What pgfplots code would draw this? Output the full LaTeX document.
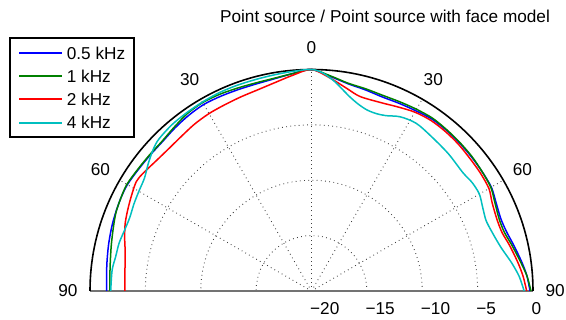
\documentclass[border=0pt]{standalone}
\usepackage{pgfplots}
\usepackage{pgfplotstable}
\pgfplotsset{compat=1.18}
\usepackage{fontspec}
\setmainfont{Liberation Sans}
\definecolor{mblue}{rgb}{0,0,1}
\definecolor{mgreen}{rgb}{0,0.5,0}
\definecolor{mred}{rgb}{1,0,0}
\definecolor{mcyan}{rgb}{0,0.75,0.75}
\newcommand{\F}{\fontsize{17.2}{20}\selectfont}
\def\U{11.075}
\tikzset{gridl/.style={black!75, line width=0.9pt, dash pattern=on 0.8pt off 3.4pt}}

% angle a (deg, 0 = front, positive = right), level db (dB)
\pgfplotstableread{
a db
-90 -1.5
-86 -1.45
-82 -1.35
-77 -1.2
-72 -1.05
-68 -0.95
-64 -0.85
-60 -0.8
-55 -0.9
-50 -0.95
-45 -0.95
-40 -0.8
-35 -0.65
-30 -0.55
-25 -0.6
-20 -0.65
-15 -0.65
-10 -0.55
-5 -0.3
0 0
5 -0.55
10 -1.0
15 -1.2
20 -1.35
25 -1.3
30 -1.2
35 -1.05
40 -1.05
45 -1.1
50 -1.15
55 -1.2
60 -1.25
64 -1.5
69 -1.7
73 -1.6
77 -1.3
82 -0.85
86 -0.5
90 -0.27
}\dblue

\pgfplotstableread{
a db
-90 -1.8
-86 -1.75
-82 -1.65
-77 -1.45
-72 -1.2
-68 -0.97
-64 -0.85
-60 -0.75
-55 -0.85
-50 -0.9
-45 -0.9
-40 -0.7
-35 -0.45
-30 -0.35
-25 -0.4
-20 -0.5
-15 -0.55
-10 -0.5
-5 -0.3
0 0
5 -0.5
10 -0.95
15 -1.1
20 -1.2
25 -1.15
30 -1.05
35 -0.95
40 -1.0
45 -1.05
50 -1.1
55 -1.2
60 -1.3
64 -1.6
69 -1.85
73 -1.8
77 -1.45
82 -0.95
86 -0.5
90 -0.18
}\dgreen

\pgfplotstableread{
a db
-90 -3.15
-86 -3.1
-82 -3.0
-78 -2.8
-74 -2.45
-70 -2.1
-66 -1.85
-62 -1.6
-58 -1.35
-55 -1.45
-50 -1.7
-45 -1.8
-40 -1.75
-35 -1.6
-30 -1.5
-25 -1.45
-20 -1.35
-15 -1.2
-10 -0.9
-5 -0.45
0 0
5 -0.7
10 -1.45
14 -1.9
20 -1.88
25 -1.65
30 -1.35
35 -1.2
40 -1.2
45 -1.25
50 -1.35
55 -1.4
60 -1.5
64 -1.85
69 -2.05
73 -2.0
77 -1.65
82 -1.2
86 -0.85
90 -0.57
}\dred

\pgfplotstableread{
a db
-90 -1.87
-84 -1.9
-80 -2.05
-76 -2.1
-72 -2.25
-68 -2.3
-64 -2.15
-60 -2.0
-56 -1.8
-52 -1.3
-48 -0.8
-45 -0.55
-40 -0.4
-35 -0.35
-30 -0.3
-25 -0.25
-20 -0.25
-15 -0.25
-10 -0.2
-5 -0.1
0 0
3 -0.3
6 -0.9
8 -1.4
11 -2.1
14 -2.6
17 -2.9
20 -2.95
23 -2.8
27 -2.35
32 -2.15
38 -2.35
45 -2.5
52 -2.65
56 -2.5
60 -2.5
64 -2.8
68 -3.0
72 -2.85
77 -2.45
82 -1.75
86 -1.2
90 -0.8
}\dcyan

\begin{document}
\begin{tikzpicture}
\begin{axis}[
  x=1pt, y=1pt,
  xmin=-311.5, xmax=254.5, ymin=-29, ymax=291,
  hide axis, clip=false,
  every axis plot/.append style={line width=1.5pt, smooth, tension=0.5},
]
% frame of the whole picture
\path (rel axis cs:0,0) rectangle (rel axis cs:1,1);
% grid
\draw[gridl] (axis cs:55.375,0) arc[start angle=0, end angle=180, radius=55.375pt];
\draw[gridl] (axis cs:110.75,0) arc[start angle=0, end angle=180, radius=110.75pt];
\draw[gridl] (axis cs:166.125,0) arc[start angle=0, end angle=180, radius=166.125pt];
\draw[gridl] (axis cs:0,0) -- (axis cs:0,221.5);
\draw[gridl] (axis cs:0,0) -- (axis cs:110.75,191.82);
\draw[gridl] (axis cs:0,0) -- (axis cs:191.82,110.75);
\draw[gridl] (axis cs:0,0) -- (axis cs:-110.75,191.82);
\draw[gridl] (axis cs:0,0) -- (axis cs:-191.82,110.75);
\draw[black!55, line width=1.2pt] (axis cs:-221.5,0) -- (axis cs:221.5,0);
\draw[black, line width=1.6pt] (axis cs:221.5,0) arc[start angle=0, end angle=180, radius=221.5pt];

\addplot[mblue] table[x expr={\U*(\thisrow{db}+20)*sin(\thisrow{a})}, y expr={\U*(\thisrow{db}+20)*cos(\thisrow{a})}] {\dblue};
\addplot[mgreen] table[x expr={\U*(\thisrow{db}+20)*sin(\thisrow{a})}, y expr={\U*(\thisrow{db}+20)*cos(\thisrow{a})}] {\dgreen};
\addplot[mred] table[x expr={\U*(\thisrow{db}+20)*sin(\thisrow{a})}, y expr={\U*(\thisrow{db}+20)*cos(\thisrow{a})}] {\dred};
\addplot[mcyan] table[x expr={\U*(\thisrow{db}+20)*sin(\thisrow{a})}, y expr={\U*(\thisrow{db}+20)*cos(\thisrow{a})}] {\dcyan};

% legend
\draw[black, line width=1.3pt, fill=white] (axis cs:-301.5,253) rectangle (axis cs:-177.5,154);
\draw[mblue, line width=2pt] (axis cs:-292.5,238) -- (axis cs:-249.5,238);
\draw[mgreen, line width=2pt] (axis cs:-292.5,215) -- (axis cs:-249.5,215);
\draw[mred, line width=2pt] (axis cs:-292.5,192) -- (axis cs:-249.5,192);
\draw[mcyan, line width=2pt] (axis cs:-292.5,168) -- (axis cs:-249.5,168);
\node[font=\F, inner sep=0pt, anchor=west] at (axis cs:-244.8,237.7) {0.5 kHz};
\node[font=\F, inner sep=0pt, anchor=west] at (axis cs:-244.8,215) {1 kHz};
\node[font=\F, inner sep=0pt, anchor=west] at (axis cs:-244.8,191.7) {2 kHz};
\node[font=\F, inner sep=0pt, anchor=west] at (axis cs:-244.8,168.3) {4 kHz};

% angle labels
\node[font=\F, inner sep=0pt] at (axis cs:0,243.65) {0};
\node[font=\F, inner sep=0pt] at (axis cs:121.8,211.0) {30};
\node[font=\F, inner sep=0pt] at (axis cs:-121.8,211.0) {30};
\node[font=\F, inner sep=0pt] at (axis cs:211.0,121.8) {60};
\node[font=\F, inner sep=0pt] at (axis cs:-211.0,121.8) {60};
\node[font=\F, inner sep=0pt] at (axis cs:243.65,0) {90};
\node[font=\F, inner sep=0pt] at (axis cs:-243.65,0) {90};
% radial labels
\node[font=\F, inner sep=0pt, anchor=base west] at (axis cs:-1.5,-24) {−20};
\node[font=\F, inner sep=0pt, anchor=base west] at (axis cs:53.9,-24) {−15};
\node[font=\F, inner sep=0pt, anchor=base west] at (axis cs:109.2,-24) {−10};
\node[font=\F, inner sep=0pt, anchor=base west] at (axis cs:164.6,-24) {−5};
\node[font=\F, inner sep=0pt, anchor=base west] at (axis cs:220,-24) {0};
% title
\node[font=\F, inner sep=0pt] at (axis cs:73.5,275) {Point source / Point source with face model};
\end{axis}
\end{tikzpicture}
\end{document}
